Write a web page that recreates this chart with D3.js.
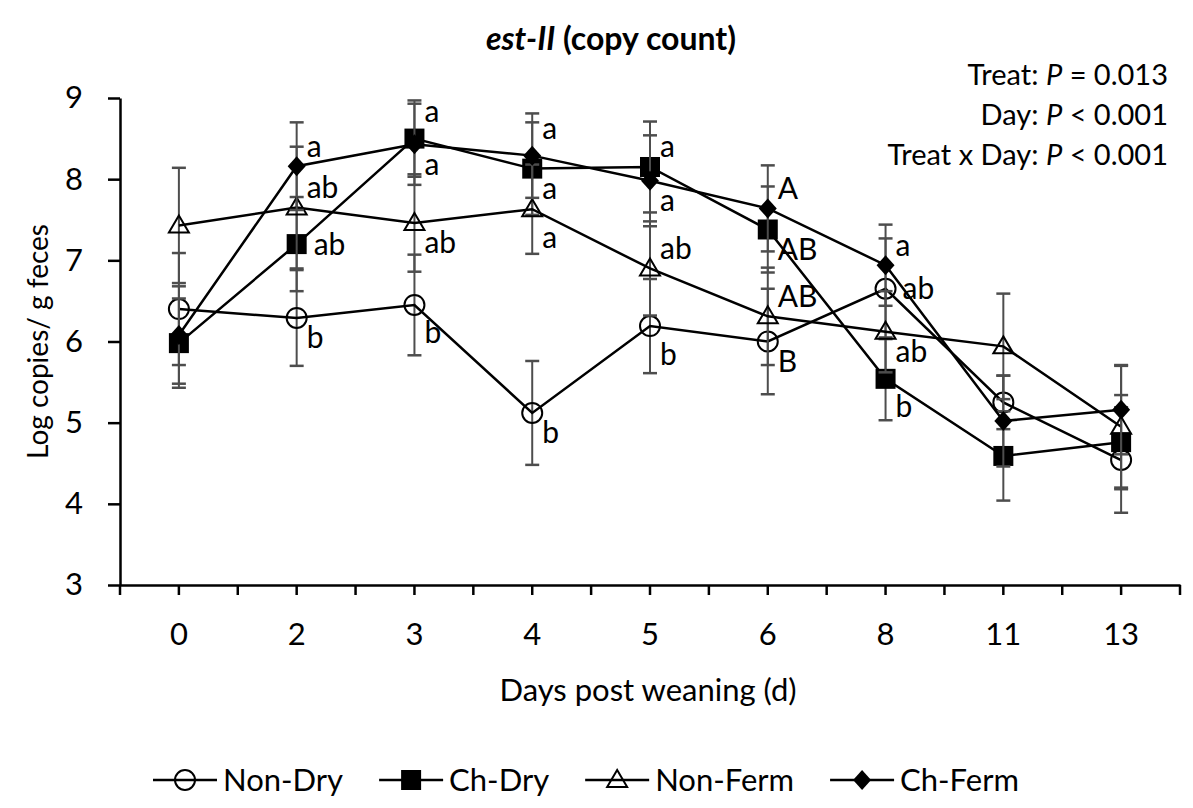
<!DOCTYPE html>
<html>
<head>
<meta charset="utf-8">
<script src="https://cdn.jsdelivr.net/npm/d3@7"></script>
<style>
  body { margin: 0; background: #fff; }
  text { font-family: Lato, "Noto Sans", sans-serif; fill: #000; }
</style>
</head>
<body>
<div id="chart-area"></div>
<script>
// days post weaning (categories)
var days = ["0", "2", "3", "4", "5", "6", "8", "11", "13"]
var yTicks = [3, 4, 5, 6, 7, 8, 9]

// means (log copies / g feces) and SE
var nonDry     = [6.40, 6.29, 6.45, 5.12, 6.19, 6.00, 6.65, 5.25, 4.54]
var nonDrySE   = [0.69, 0.59, 0.62, 0.64, 0.58, 0.65, 0.62, 0.33, 0.65]
var chDry      = [5.98, 7.20, 8.50, 8.13, 8.15, 7.38, 5.54, 4.59, 4.76]
var chDrySE    = [0.55, 0.58, 0.47, 0.57, 0.56, 0.53, 0.51, 0.55, 0.58]
var nonFerm    = [7.43, 7.65, 7.46, 7.63, 6.90, 6.31, 6.12, 5.94, 4.95]
var nonFermSE  = [0.71, 0.75, 0.60, 0.55, 0.58, 0.60, 0.50, 0.65, 0.75]
var chFerm     = [6.08, 8.16, 8.43, 8.29, 7.98, 7.64, 6.94, 5.02, 5.16]
var chFermSE   = [0.60, 0.54, 0.50, 0.52, 0.56, 0.53, 0.50, 0.56, 0.55]

// significance letters
var nonDryLetters  = ["", "b", "b", "b", "b", "B", "ab", "", ""]
var chDryLetters   = ["", "ab", "a", "a", "a", "AB", "b", "", ""]
var nonFermLetters = ["", "ab", "ab", "a", "ab", "AB", "ab", "", ""]
var chFermLetters  = ["", "a", "a", "a", "a", "A", "a", "", ""]

// where each letter sits: u = above, U = well above, d = below, D = well below, r = right
var nonDrySpot  = ["", "d", "D", "d", "D", "d", "r", "", ""]
var chDrySpot   = ["", "r", "U", "d", "u", "d", "D", "", ""]
var nonFermSpot = ["", "u", "d", "D", "u", "u", "d", "", ""]
var chFermSpot  = ["", "u", "d", "U", "d", "u", "u", "", ""]

var series = [
  { name: "Non-Dry", mean: nonDry, se: nonDrySE, letters: nonDryLetters, spots: nonDrySpot, marker: "circle" },
  { name: "Ch-Dry", mean: chDry, se: chDrySE, letters: chDryLetters, spots: chDrySpot, marker: "square" },
  { name: "Non-Ferm", mean: nonFerm, se: nonFermSE, letters: nonFermLetters, spots: nonFermSpot, marker: "triangle" },
  { name: "Ch-Ferm", mean: chFerm, se: chFermSE, letters: chFermLetters, spots: chFermSpot, marker: "diamond" }
]

var width = 1193, height = 808
var plotLeft = 120, plotRight = 1180, plotTop = 98, plotBottom = 585

var svg = d3.select("#chart-area").append("svg")
  .attr("width", width)
  .attr("height", height)

var x = d3.scaleBand().domain(days).range([plotLeft, plotRight]).padding(0)
var y = d3.scaleLinear().domain([3, 9]).range([plotBottom, plotTop])
var cx = function (d) { return x(d) + x.bandwidth() / 2 }

// markers
function drawMarker(g, type, px, py) {
  if (type === "circle") {
    g.append("circle").attr("cx", px).attr("cy", py).attr("r", 10)
      .attr("fill", "none").attr("stroke", "#000").attr("stroke-width", 2)
  } else if (type === "square") {
    g.append("rect").attr("x", px - 10).attr("y", py - 10).attr("width", 20).attr("height", 20)
      .attr("fill", "#000")
  } else if (type === "triangle") {
    g.append("path").attr("d", "M" + px + "," + (py - 10) + "L" + (px + 10) + "," + (py + 7) + "L" + (px - 10) + "," + (py + 7) + "Z")
      .attr("fill", "none").attr("stroke", "#000").attr("stroke-width", 2)
  } else {
    g.append("path").attr("d", "M" + px + "," + (py - 10) + "L" + (px + 9) + "," + py + "L" + px + "," + (py + 10) + "L" + (px - 9) + "," + py + "Z")
      .attr("fill", "#000")
  }
}

// axes
var yAxis = d3.axisLeft(y).tickValues(yTicks).tickFormat(d3.format("d"))
  .tickSize(12).tickSizeOuter(0).tickPadding(25)
var gy = svg.append("g").attr("transform", "translate(" + plotLeft + ",0)").call(yAxis)
gy.select(".domain").attr("stroke-width", 2.5)
gy.selectAll(".tick line").attr("stroke-width", 2.5)
gy.selectAll(".tick text").style("font-size", "31px")

var xAxis = d3.axisBottom(x).tickSize(10).tickSizeOuter(0).tickPadding(28)
var gx = svg.append("g").attr("transform", "translate(0," + plotBottom + ")").call(xAxis)
gx.select(".domain").attr("stroke-width", 2.5)
gx.selectAll(".tick line").attr("stroke-width", 2.5)
gx.selectAll(".tick text").style("font-size", "31px")
// tick marks between categories
gx.selectAll(".edge").data(days.concat(["end"])).enter().append("line")
  .attr("class", "edge")
  .attr("x1", function (d) { return d === "end" ? x.range()[1] : x(d) })
  .attr("x2", function (d) { return d === "end" ? x.range()[1] : x(d) })
  .attr("y1", 0).attr("y2", 10)
  .attr("stroke", "#000").attr("stroke-width", 2.5)

// series
var spotDy = { u: -20, U: -27, d: 20, D: 28, r: 0 }
series.forEach(function (s) {
  var g = svg.append("g")
  var pts = days.map(function (d, i) { return { day: d, v: s.mean[i], se: s.se[i], letter: s.letters[i], spot: s.spots[i] } })

  // error bars
  pts.forEach(function (p) {
    var px = cx(p.day)
    g.append("line").attr("x1", px).attr("x2", px).attr("y1", y(p.v - p.se)).attr("y2", y(p.v + p.se))
      .attr("stroke", "#4d4d4d").attr("stroke-width", 2)
    ;[p.v - p.se, p.v + p.se].forEach(function (e) {
      g.append("line").attr("x1", px - 7).attr("x2", px + 7).attr("y1", y(e)).attr("y2", y(e))
        .attr("stroke", "#4d4d4d").attr("stroke-width", 2.5)
    })
  })

  var line = d3.line().x(function (p) { return cx(p.day) }).y(function (p) { return y(p.v) })
  g.append("path").datum(pts).attr("d", line)
    .attr("fill", "none").attr("stroke", "#000").attr("stroke-width", 2.5)

  pts.forEach(function (p) { drawMarker(g, s.marker, cx(p.day), y(p.v)) })

  pts.forEach(function (p) {
    if (!p.letter) return
    g.append("text")
      .attr("x", cx(p.day) + (p.spot === "r" ? 17 : 10))
      .attr("y", y(p.v) + spotDy[p.spot])
      .attr("dy", "0.35em")
      .style("font-size", "30px")
      .text(p.letter)
  })
})

// title
var title = svg.append("text").attr("x", 611).attr("y", 50).attr("text-anchor", "middle")
  .style("font-size", "32px").style("font-weight", "bold")
title.append("tspan").style("font-style", "italic").text("est-II")
title.append("tspan").text(" (copy count)")

// stats
var stats = [["Treat: ", "P", " = 0.013"], ["Day: ", "P", " < 0.001"], ["Treat x Day: ", "P", " < 0.001"]]
stats.forEach(function (s, i) {
  var t = svg.append("text").attr("x", 1168).attr("y", 75 + i * 40).attr("dy", "0.35em")
    .attr("text-anchor", "end").style("font-size", "29px")
  t.append("tspan").text(s[0])
  t.append("tspan").style("font-style", "italic").text(s[1])
  t.append("tspan").text(s[2])
})

// axis titles
svg.append("text").attr("transform", "translate(38," + ((plotTop + plotBottom) / 2) + ") rotate(-90)")
  .attr("text-anchor", "middle").attr("dy", "0.35em").style("font-size", "28px")
  .text("Log copies/ g feces")
svg.append("text").attr("x", 648).attr("y", 690).attr("dy", "0.35em")
  .attr("text-anchor", "middle").style("font-size", "31px")
  .text("Days post weaning (d)")

// legend
var lx = 153, ly = 780
series.forEach(function (s) {
  var g = svg.append("g")
  g.append("line").attr("x1", lx).attr("x2", lx + 64).attr("y1", ly).attr("y2", ly)
    .attr("stroke", "#000").attr("stroke-width", 2.5)
  drawMarker(g, s.marker, lx + 32, ly)
  var t = g.append("text").attr("x", lx + 70).attr("y", ly).attr("dy", "0.35em")
    .style("font-size", "31px").text(s.name)
  lx = lx + 70 + t.node().getComputedTextLength() + 36
})
</script>
</body>
</html>
